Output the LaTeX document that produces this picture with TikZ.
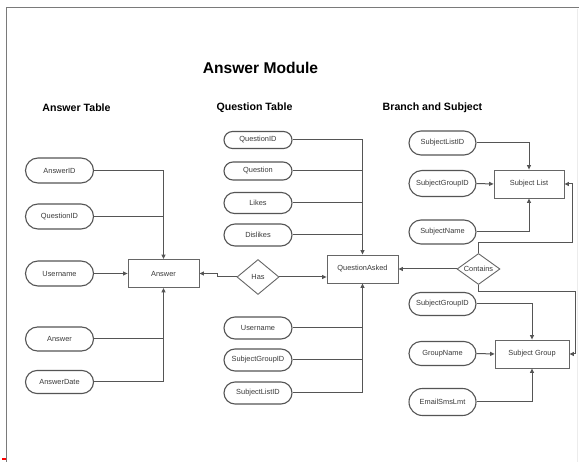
\documentclass[tikz,border=0pt]{standalone}
\usepackage{fontspec}
\setmainfont{Liberation Sans}
\usetikzlibrary{arrows.meta,shapes.misc,shapes.geometric}

\definecolor{linegray}{HTML}{555555}
\definecolor{boxgray}{HTML}{666666}
\definecolor{textgray}{HTML}{3A3A3A}
\definecolor{framegray}{HTML}{7A7A7A}

\tikzset{
  attr/.style={rounded rectangle, draw=linegray, line width=1.1pt, minimum width=70pt,
    minimum height=25pt, inner sep=1pt, font=\fontsize{7.4}{8}\selectfont, text=textgray},
  entity/.style={rectangle, draw=boxgray, line width=0.8pt, minimum width=71pt,
    minimum height=28pt, inner sep=1pt, font=\fontsize{7.4}{8}\selectfont, text=textgray},
  rel/.style={diamond, draw=boxgray, line width=0.9pt, inner sep=0pt, aspect=1.2,
    font=\fontsize{7.4}{8}\selectfont, text=textgray},
  conn/.style={draw=linegray, line width=1pt},
  arr/.style={conn, -{Triangle[length=4.5pt,width=4pt]}},
  head/.style={font=\fontsize{10.6}{12}\selectfont\bfseries},
}

\begin{document}
\begin{tikzpicture}[x=1pt, y=-1pt]
  \useasboundingbox (0,0) rectangle (579,462);
  \fill[white] (0,0) rectangle (579,462);

  % page frame
  \draw[framegray, line width=1.4pt] (6.5,462) -- (6.5,7.5) -- (579,7.5);
  \draw[gray!15, line width=0.6pt] (577,9) -- (577,462);
  \fill[red] (2,458) rectangle (6,460);

  % titles
  \node[font=\fontsize{15.6}{18}\selectfont\bfseries] (title) at (260.5,68) {Answer Module};
  \node[head] (h1) at (76.5,108) {Answer Table};
  \node[head] (h2) at (254.5,108) {Question Table};
  \node[head] (h3) at (432.5,108) {Branch and Subject};

  % ---------- Answer table ----------
  \node[entity] (ans) at (163.5,273.5) {Answer};
  \node[attr] (aid)   at (59.5,170.5) {AnswerID};
  \node[attr] (aqid)  at (59.5,216.5) {QuestionID};
  \node[attr] (aun)   at (59.5,273.5) {Username};
  \node[attr, minimum height=24pt] (aans)  at (59.5,339) {Answer};
  \node[attr, minimum height=23pt] (adate) at (59.5,382) {AnswerDate};

  \draw[arr] (aid.east) -| (ans.north);
  \draw[conn] (aqid.east) -- (aqid.east -| ans.north);
  \draw[arr] (aun.east) -- (ans.west);
  \draw[arr] (adate.east) -| (ans.south);
  \draw[conn] (aans.east) -- (aans.east -| ans.south);

  % ---------- Question table ----------
  \node[entity] (qa) at (362.5,269) {QuestionAsked};
  \node[attr, minimum height=17pt] (qid)  at (258,140) {QuestionID};
  \node[attr, minimum height=18pt] (qq)   at (258,171) {Question};
  \node[attr, minimum height=21pt] (ql)   at (258,203) {Likes};
  \node[attr, minimum height=22pt] (qd)   at (258,235) {Dislikes};
  \node[attr, minimum height=22pt] (qun)  at (258,328) {Username};
  \node[attr, minimum height=22pt] (qsg)  at (258,360) {SubjectGroupID};
  \node[attr, minimum height=22pt] (qsl)  at (258,393) {SubjectListID};

  \draw[arr] (qid.east) -| (qa.north);
  \draw[conn] (qq.east) -- (qq.east -| qa.north);
  \draw[conn] (ql.east) -- (ql.east -| qa.north);
  \draw[conn] (qd.east) -- (qd.east -| qa.north);
  \draw[arr] (qsl.east) -| (qa.south);
  \draw[conn] (qsg.east) -- (qsg.east -| qa.south);
  \draw[conn] (qun.east) -- (qun.east -| qa.south);

  % Has relationship
  \node[rel, minimum width=42pt, minimum height=35pt] (has) at (258,277) {Has};
  \draw[arr] (has.west) -- ++(-19,0) |- (ans.east);
  \draw[arr] (has.east) -- (has.east -| qa.west);

  % ---------- Branch and subject ----------
  \node[entity, minimum width=70pt] (sl) at (529,184) {Subject List};
  \node[entity, minimum width=74pt] (sg) at (532,354) {Subject Group};
  \node[attr, minimum width=69pt, minimum height=24pt] (slid)  at (442.5,143) {SubjectListID};
  \node[attr, minimum width=69pt, minimum height=26pt] (sgid)  at (442.5,183.5) {SubjectGroupID};
  \node[attr, minimum width=69pt, minimum height=24pt] (sname) at (442.5,232) {SubjectName};
  \node[attr, minimum width=69pt, minimum height=23pt] (sgid2) at (442.5,304) {SubjectGroupID};
  \node[attr, minimum width=69pt, minimum height=24pt] (gname) at (442.5,353.5) {GroupName};
  \node[attr, minimum width=69pt, minimum height=27pt] (email) at (442.5,402) {EmailSmsLmt};

  \draw[arr] (slid.east) -| (sl.north);
  \draw[arr] (sgid.east) -- (sl.west);
  \draw[arr] (sname.east) -| (sl.south);
  \draw[arr] (sgid2.east) -| (sg.north);
  \draw[arr] (gname.east) -- (sg.west);
  \draw[arr] (email.east) -| (sg.south);

  % Contains relationship
  \node[rel, minimum width=43pt, minimum height=31pt] (con) at (478.5,269) {Contains};
  \coordinate (cup) at (478.5,243);
  \coordinate (cupr) at (572,243);
  \coordinate (cdn) at (478.5,292);
  \coordinate (cdnr) at (575,292);
  \draw[arr] (con.north) -- (cup) -- (cupr) |- (sl.east);
  \draw[arr] (con.south) -- (cdn) -- (cdnr) |- (sg.east);
  \draw[arr] (con.west) -- (con.west -| qa.east);
\end{tikzpicture}
\end{document}
